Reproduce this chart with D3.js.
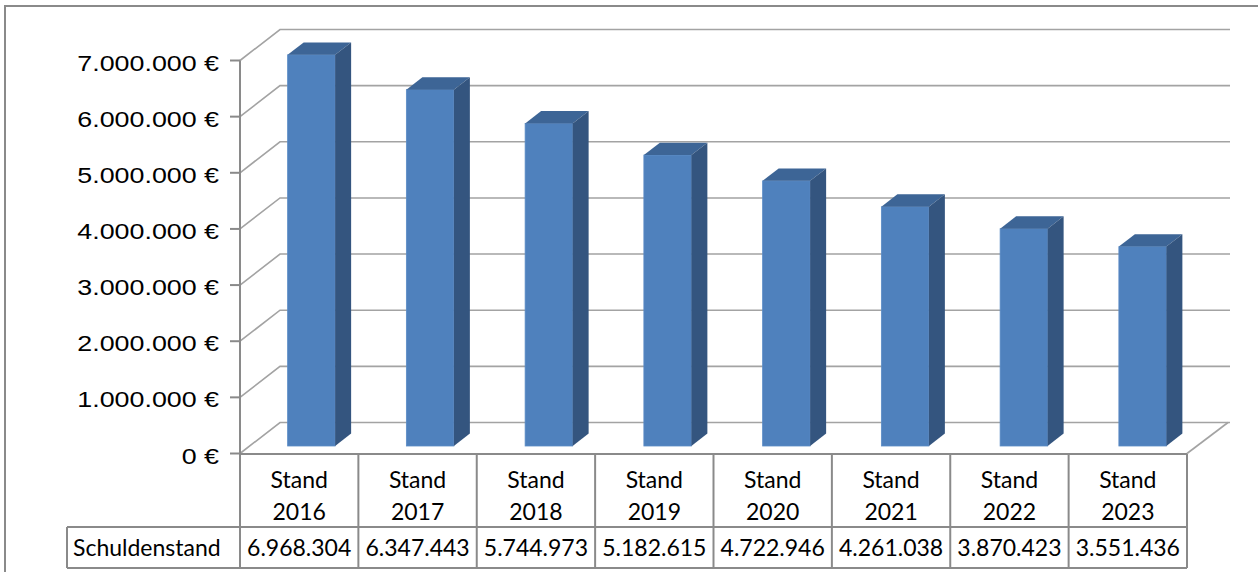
<!DOCTYPE html>
<html>
<head>
<meta charset="utf-8">
<script src="https://cdn.jsdelivr.net/npm/d3@7"></script>
<style>
  body { margin: 0; background: #fff; }
  svg { display: block; }
</style>
</head>
<body>
<div id="chart"></div>
<script>
const width = 1258
const height = 572

// data
const categories = ["2016", "2017", "2018", "2019", "2020", "2021", "2022", "2023"]
const catPrefix = "Stand"
const seriesName = "Schuldenstand"
const values = [6968304, 6347443, 5744973, 5182615, 4722946, 4261038, 3870423, 3551436]
const yTicks = [0, 1000000, 2000000, 3000000, 4000000, 5000000, 6000000, 7000000]

const de = d3.formatLocale({ decimal: ",", thousands: ".", grouping: [3], currency: ["", " €"] })
const fmt = de.format(",.0f")

const svg = d3.select("#chart")
    .append("svg")
    .attr("width", width)
    .attr("height", height)

// outer chart frame
svg.append("rect")
    .attr("x", 5).attr("y", 6)
    .attr("width", width + 20).attr("height", height + 20)
    .attr("fill", "#fff")
    .attr("stroke", "#8a8a8a")
    .attr("stroke-width", 2)

// 3D geometry
const x0 = 240, x1 = 1187
const depth = [40, -31]          // floor depth vector
const y = d3.scaleLinear().domain([0, 7000000]).range([453.5, 60.5])
const grid = "#a3a3a3"

// gridlines: front diagonal + back wall line
const g = svg.append("g")
yTicks.forEach(v => {
    const yy = y(v)
    g.append("path")
        .attr("d", `M${x0},${yy} L${x0 + depth[0]},${yy + depth[1]} L1230,${yy + depth[1]}`)
        .attr("fill", "none")
        .attr("stroke", grid)
        .attr("stroke-width", 1.6)
})
// floor right edge
g.append("line")
    .attr("x1", x1).attr("y1", y(0))
    .attr("x2", x1 + 41).attr("y2", y(0) + depth[1])
    .attr("stroke", grid).attr("stroke-width", 1.6)

// y axis
const axis = svg.append("g")
axis.append("line")
    .attr("x1", x0).attr("x2", x0)
    .attr("y1", y(7000000)).attr("y2", 568)
    .attr("stroke", "#8a8a8a").attr("stroke-width", 2)
yTicks.forEach(v => {
    axis.append("line")
        .attr("x1", x0 - 10).attr("x2", x0)
        .attr("y1", y(v)).attr("y2", y(v))
        .attr("stroke", "#8a8a8a").attr("stroke-width", 2)
    axis.append("text")
        .attr("transform", `translate(219,${y(v) + 10}) scale(1.22,1)`)
        .attr("text-anchor", "end")
        .attr("font-family", "Liberation Sans, Arial, sans-serif")
        .attr("font-size", 22)
        .attr("fill", "#000")
        .text(fmt(v) + " €")
})

// bars
const xb = d3.scaleBand().domain(categories).range([242, 1192]).paddingInner(0.6).paddingOuter(0.3)
const front = [10, -7.5]   // bar front offset into depth
const bd = [16, -12.4]     // bar depth
const bars = svg.append("g")
categories.forEach((c, i) => {
    const l = xb(c) + front[0]
    const r = l + xb.bandwidth()
    const b = y(0) + front[1]
    const t = y(values[i]) + front[1]
    // front face
    bars.append("rect")
        .attr("x", l).attr("y", t)
        .attr("width", r - l).attr("height", b - t)
        .attr("fill", "#4f81bd")
        .attr("stroke", "#5b8cc6").attr("stroke-width", 0.8)
    // top face
    bars.append("path")
        .attr("d", `M${l},${t} L${l + bd[0]},${t + bd[1]} L${r + bd[0]},${t + bd[1]} L${r},${t}Z`)
        .attr("fill", "#3d6596")
    // side face
    bars.append("path")
        .attr("d", `M${r},${t} L${r + bd[0]},${t + bd[1]} L${r + bd[0]},${b + bd[1]} L${r},${b}Z`)
        .attr("fill", "#34557f")
})

// data table
const xt = d3.scaleBand().domain(categories).range([x0, x1])
const line = "#8a8a8a"
const tbl = svg.append("g")
const rowTop = 454, rowMid = 527, rowBot = 568
tbl.append("line").attr("x1", x0).attr("x2", x1).attr("y1", rowTop).attr("y2", rowTop)
tbl.append("line").attr("x1", 67).attr("x2", x1).attr("y1", rowMid).attr("y2", rowMid)
tbl.append("line").attr("x1", 67).attr("x2", x1).attr("y1", rowBot).attr("y2", rowBot)
tbl.append("line").attr("x1", 67).attr("x2", 67).attr("y1", rowMid).attr("y2", rowBot)
categories.forEach(c => {
    tbl.append("line").attr("x1", xt(c) + xt.bandwidth()).attr("x2", xt(c) + xt.bandwidth())
        .attr("y1", rowTop).attr("y2", rowBot)
})
tbl.selectAll("line").attr("stroke", line).attr("stroke-width", 2)

const tfont = "Lato, 'Open Sans', sans-serif"
categories.forEach((c, i) => {
    const cx = xt(c) + xt.bandwidth() / 2
    tbl.append("text").attr("x", cx).attr("y", 488)
        .attr("text-anchor", "middle").attr("font-family", tfont).attr("font-size", 23)
        .text(catPrefix)
    tbl.append("text").attr("x", cx).attr("y", 520)
        .attr("text-anchor", "middle").attr("font-family", tfont).attr("font-size", 23)
        .text(c)
    tbl.append("text").attr("x", cx).attr("y", 556)
        .attr("text-anchor", "middle").attr("font-family", tfont).attr("font-size", 23)
        .text(fmt(values[i]))
})
tbl.append("text").attr("x", 73).attr("y", 556)
    .attr("font-family", tfont).attr("font-size", 23)
    .text(seriesName)
</script>
</body>
</html>
